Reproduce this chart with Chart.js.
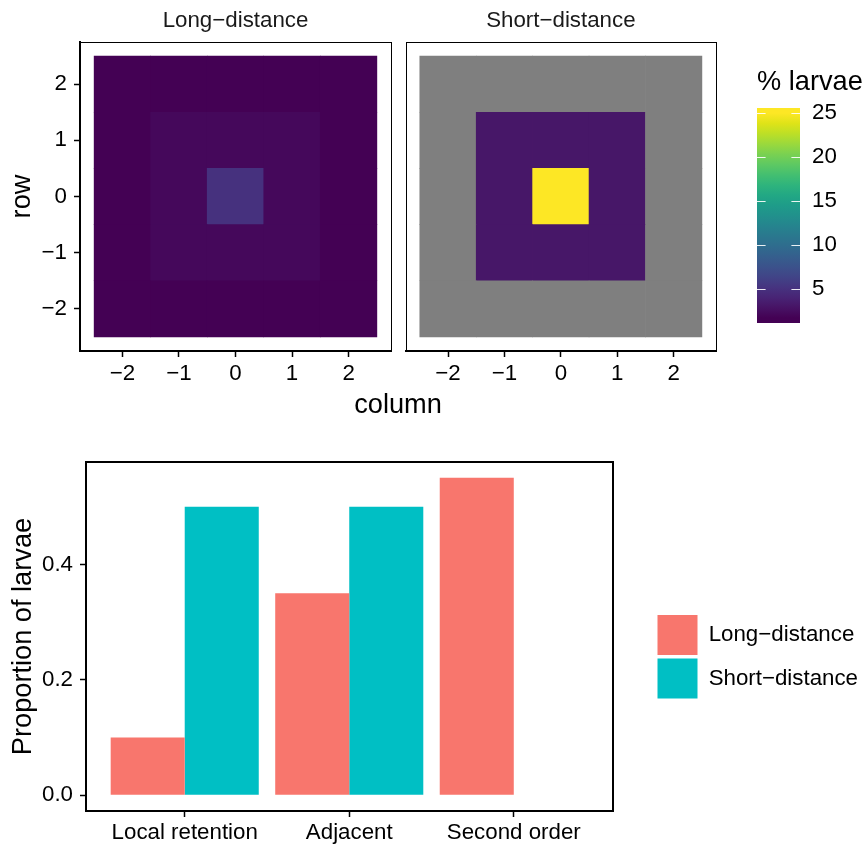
<!DOCTYPE html>
<html>
<head>
<meta charset="utf-8">
<script src="https://cdn.jsdelivr.net/npm/chart.js@4.4.1/dist/chart.umd.min.js"></script>
<style>
  html, body { margin: 0; padding: 0; background: #fff; }
  #figure { position: relative; width: 866px; height: 847px; overflow: hidden; }
  #figure canvas { position: absolute; }
  .axis-title { position: absolute; font-family: 'Liberation Sans', Arial, Helvetica, sans-serif; color: #000; white-space: nowrap; text-align: center; }
</style>
</head>
<body>
<div id="figure">
  <canvas id="hmLong" width="400" height="400" style="left:0;top:0"></canvas>
  <canvas id="hmShort" width="326" height="400" style="left:400px;top:0"></canvas>
  <canvas id="colourbar" width="126" height="270" style="left:740px;top:60px"></canvas>
  <div class="axis-title" style="left:298px;width:200px;top:389px;font-size:27.2px;line-height:30px">column</div>
  <canvas id="bars" width="866" height="407" style="left:0;top:440px"></canvas>
</div>
<script>
// ---- settlement grid: 5 x 5 cells around the release cell ----
const gridCols = [-2, -1, 0, 1, 2];
const gridRows = [2, 1, 0, -1, -2];          // listed top to bottom
const gridTicks = [-2, -1, 0, 1, 2];

// % larvae settling in each cell (rows top to bottom, null = no larvae)
const longPct = [
  [1.72, 1.72, 1.72, 1.72, 1.72],
  [1.72, 2.19, 2.19, 2.19, 1.72],
  [1.72, 2.19, 5.00, 2.19, 1.72],
  [1.72, 2.19, 2.19, 2.19, 1.72],
  [1.72, 1.72, 1.72, 1.72, 1.72]
];
const shortPct = [
  [null, null, null, null, null],
  [null, 3.13, 3.13, 3.13, null],
  [null, 3.13, 25.0, 3.13, null],
  [null, 3.13, 3.13, 3.13, null],
  [null, null, null, null, null]
];
const panelNames = ['Long\u2212distance', 'Short\u2212distance'];
const colourbarTicks = [5, 10, 15, 20, 25];

// ---- proportion of larvae by dispersal class ----
const distanceClasses = ['Local retention', 'Adjacent', 'Second order'];
const longProp = [0.10, 0.35, 0.55];
const shortProp = [0.50, 0.50, 0.00];
const seriesNames = ['Long\u2212distance', 'Short\u2212distance'];
const proportionTicks = [0.0, 0.2, 0.4];

// ---- styling ----
const FONT = "'Liberation Sans', Arial, Helvetica, sans-serif";
Chart.defaults.font.family = FONT;
Chart.defaults.color = '#000';
const TICK_SIZE = 22.3, TITLE_SIZE = 27.2;
const seriesColours = ['#F8766D', '#00BFC4'];
const naColour = '#7F7F7F';
const viridisStops = ['#440154','#471365','#482475','#463480','#414487','#3b528b','#355f8d',
  '#2f6c8e','#2a788e','#25848e','#21918c','#1e9c89','#22a884','#2fb47c','#44bf70',
  '#5ec962','#7ad151','#9bd93c','#bddf26','#dfe318','#fde725'];

function hexRgb(h) { return [1, 3, 5].map(i => parseInt(h.substr(i, 2), 16)); }
function viridis(t) {
  t = Math.max(0, Math.min(1, t));
  const p = t * (viridisStops.length - 1);
  const i = Math.min(Math.floor(p), viridisStops.length - 2);
  const f = p - i;
  const a = hexRgb(viridisStops[i]), b = hexRgb(viridisStops[i + 1]);
  const c = a.map((v, k) => Math.round(v + (b[k] - v) * f));
  return `rgb(${c[0]},${c[1]},${c[2]})`;
}

// shared colour limits across both panels
const allPct = longPct.flat().concat(shortPct.flat()).filter(v => v !== null);
const pctMin = Math.min(...allPct), pctMax = Math.max(...allPct);
const NBIN = 20;
const halfBin = (pctMax - pctMin) / NBIN / 2;
function fillFor(v) { return v === null ? naColour : viridis((v - pctMin) / (pctMax - pctMin)); }

const minusSign = v => String(v).replace('-', '\u2212');

// axis extent with the usual 5% padding around the tiles
const gridLo = Math.min(...gridCols) - 0.5, gridHi = Math.max(...gridCols) + 0.5;
const gridPad = 0.05 * (gridHi - gridLo);

// plain black panel outline
const panelFrame = {
  id: 'panelFrame',
  afterDraw(chart, args, opts) {
    const { ctx, chartArea: a } = chart;
    const w = opts.width || 1;
    const o = (w % 2) ? 0.5 : 0;
    ctx.save();
    ctx.strokeStyle = '#000';
    ctx.lineWidth = w;
    const l = Math.round(a.left) + o, t = Math.round(a.top) + o;
    const r = Math.round(a.right) + o, b = Math.round(a.bottom) + o;
    ctx.strokeRect(l, t, r - l, b - t);
    ctx.restore();
  }
};

function tileData(matrix) {
  const out = [];
  gridRows.forEach((r, i) => gridCols.forEach((c, j) => {
    out.push({ x: c, y: [r - 0.5, r + 0.5], v: matrix[i][j] });
  }));
  return out;
}

function axisTicksFrom(values) {
  return scale => { scale.ticks = values.map(v => ({ value: v })); };
}

function tickGrid() {
  return { display: true, drawOnChartArea: false, drawTicks: true, tickLength: 6,
           tickColor: '#000', tickWidth: 1.5, offset: false };
}

function heatmap(id, name, matrix, withRowAxis, pad) {
  const yAxis = {
    type: 'linear', display: withRowAxis,
    min: gridLo - gridPad, max: gridHi + gridPad,
    afterBuildTicks: axisTicksFrom(gridTicks),
    ticks: { callback: minusSign, font: { size: TICK_SIZE }, color: '#000', padding: 7 },
    grid: tickGrid(),
    border: { display: true, color: '#000', width: 2 },
    title: { display: true, text: 'row', color: '#000',
             font: { size: TITLE_SIZE, lineHeight: 1.2 }, padding: { top: 6, bottom: 0 } }
  };
  if (withRowAxis) yAxis.afterFit = s => { s.width = 80; };
  return new Chart(document.getElementById(id), {
    type: 'bar',
    data: { datasets: [{
      data: tileData(matrix),
      backgroundColor: ctx => fillFor(ctx.raw ? ctx.raw.v : null),
      borderWidth: 0,
      categoryPercentage: 1,
      barPercentage: 1
    }] },
    options: {
      responsive: false, animation: false, events: [],
      layout: { padding: pad },
      plugins: {
        legend: { display: false },
        tooltip: { enabled: false },
        title: { display: true, text: name, fullSize: false, color: '#1a1a1a',
                 font: { size: TICK_SIZE, weight: 'normal', lineHeight: 1.2 },
                 padding: { top: 7, bottom: 8.24 } },
        panelFrame: { width: 1 }
      },
      scales: {
        x: {
          type: 'linear', offset: false,
          min: gridLo - gridPad, max: gridHi + gridPad,
          afterBuildTicks: axisTicksFrom(gridTicks),
          ticks: { callback: minusSign, font: { size: TICK_SIZE }, color: '#000', padding: 3, maxRotation: 0 },
          grid: tickGrid(),
          border: { display: true, color: '#000', width: 2 },
          afterFit: s => { s.height = 49; }
        },
        y: yAxis
      }
    },
    plugins: [panelFrame]
  });
}

heatmap('hmLong', panelNames[0], longPct, true, { left: 0, right: 9, top: 0, bottom: 0 });
heatmap('hmShort', panelNames[1], shortPct, false, { left: 5.7, right: 10, top: 0, bottom: 0 });

// viridis colour bar with white tick marks
const colourBar = {
  id: 'colourBar',
  beforeDatasetsDraw(chart) {
    const { ctx, chartArea: a, scales: { y } } = chart;
    const y0 = y.getPixelForValue(pctMin), y1 = y.getPixelForValue(pctMax);
    const g = ctx.createLinearGradient(0, y0, 0, y1);
    for (let k = 0; k <= NBIN; k++) g.addColorStop(k / NBIN, viridis(k / NBIN));
    ctx.save();
    ctx.fillStyle = g;
    ctx.fillRect(a.left, a.top, a.width, a.height);
    const len = a.width / 5;
    ctx.strokeStyle = 'rgba(255,255,255,0.9)';
    ctx.lineWidth = 1;
    y.ticks.forEach(t => {
      const py = Math.round(y.getPixelForValue(t.value)) + 0.5;
      ctx.beginPath();
      ctx.moveTo(a.left, py); ctx.lineTo(a.left + len, py);
      ctx.moveTo(a.right - len, py); ctx.lineTo(a.right, py);
      ctx.stroke();
    });
    ctx.restore();
  }
};

new Chart(document.getElementById('colourbar'), {
  type: 'bar',
  data: { datasets: [] },
  options: {
    responsive: false, animation: false, events: [],
    layout: { padding: { left: 17, right: 0, top: 0, bottom: 7 } },
    plugins: {
      legend: { display: false },
      tooltip: { enabled: false },
      title: { display: true, text: '% larvae', align: 'start', fullSize: true, color: '#000',
               font: { size: TITLE_SIZE, weight: 'normal', lineHeight: 1.2 },
               padding: { top: 6, bottom: 9.36 } }
    },
    scales: {
      x: { display: false },
      y: {
        type: 'linear', position: 'right',
        min: pctMin - halfBin, max: pctMax + halfBin,
        afterBuildTicks: axisTicksFrom(colourbarTicks),
        ticks: { font: { size: TICK_SIZE }, color: '#000', padding: 12 },
        grid: { display: false, drawTicks: false },
        border: { display: false },
        // the bar fills the full height; labels sit well inside it
        afterFit: s => { s.width = 66; s.paddingTop = 0; s.paddingBottom = 0; }
      }
    }
  },
  plugins: [colourBar]
});

// ---- grouped bar chart ----
const allProp = longProp.concat(shortProp);
const propMax = Math.max(...allProp, 0), propMin = Math.min(...allProp, 0);
const propPad = 0.05 * (propMax - propMin);
const classIdx = distanceClasses.map((c, i) => i);

new Chart(document.getElementById('bars'), {
  type: 'bar',
  data: {
    datasets: [
      { label: seriesNames[0], backgroundColor: seriesColours[0], borderWidth: 0,
        data: classIdx.map(i => ({ x: i, y: longProp[i] })) },
      { label: seriesNames[1], backgroundColor: seriesColours[1], borderWidth: 0,
        data: classIdx.map(i => ({ x: i, y: shortProp[i] })) }
    ]
  },
  options: {
    responsive: false, animation: false, events: [],
    categoryPercentage: 0.9, barPercentage: 1,
    layout: { padding: { top: 22, right: 0, bottom: 0, left: 0 } },
    plugins: {
      tooltip: { enabled: false },
      legend: {
        position: 'right', align: 'center', maxWidth: 212,
        title: { display: true, text: ' ', font: { size: 3, lineHeight: 1.5 }, padding: 0 },
        labels: { boxWidth: 40, boxHeight: 40, padding: 3.5, color: '#000',
                  font: { size: TICK_SIZE } }
      },
      panelFrame: { width: 2 }
    },
    scales: {
      x: {
        type: 'linear', offset: false,
        min: -0.6, max: distanceClasses.length - 1 + 0.6,
        afterBuildTicks: axisTicksFrom(classIdx),
        ticks: { callback: v => distanceClasses[v], font: { size: TICK_SIZE }, color: '#000',
                 padding: 2, maxRotation: 0, autoSkip: false },
        grid: tickGrid(),
        border: { display: false },
        afterFit: s => { s.height = 36; }
      },
      y: {
        type: 'linear',
        min: propMin - propPad, max: propMax + propPad,
        afterBuildTicks: axisTicksFrom(proportionTicks),
        ticks: { callback: v => v.toFixed(1), font: { size: TICK_SIZE }, color: '#000', padding: 7 },
        grid: tickGrid(),
        border: { display: false },
        title: { display: true, text: 'Proportion of larvae', color: '#000',
                 font: { size: TITLE_SIZE, lineHeight: 1.2 }, padding: { top: 7, bottom: 0 } },
        afterFit: s => { s.width = 86; }
      },
      gap: {
        type: 'linear', position: 'right', display: true,
        ticks: { display: false },
        grid: { display: false, drawTicks: false },
        border: { display: false },
        afterFit: s => { s.width = 41.5; }
      }
    }
  },
  plugins: [panelFrame]
});
</script>
</body>
</html>
